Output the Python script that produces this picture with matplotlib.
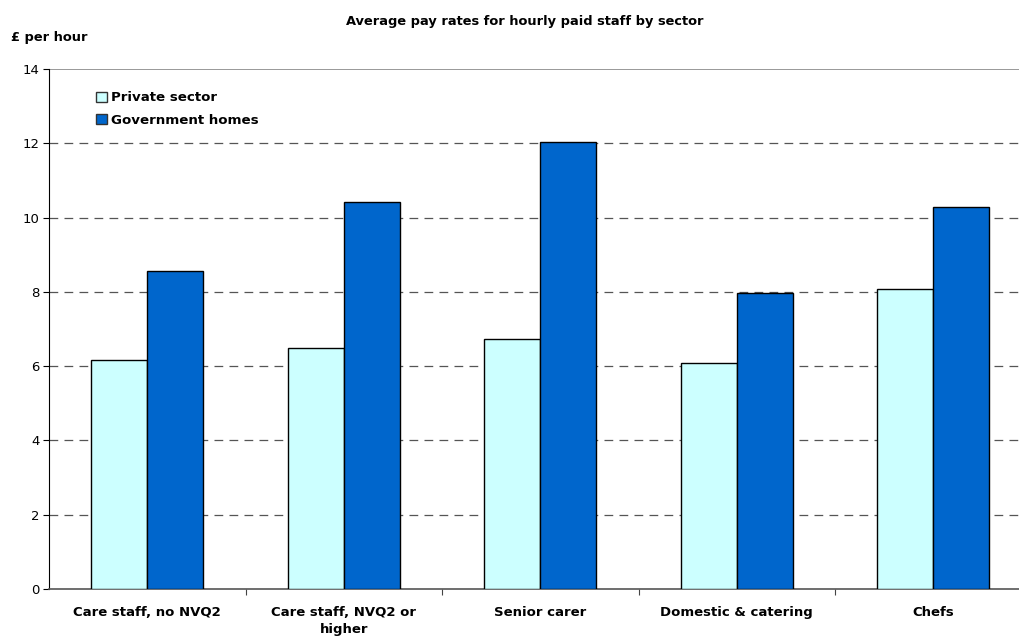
import matplotlib
matplotlib.use("Agg")
import matplotlib.pyplot as plt
import numpy as np

categories = ["Care staff, no NVQ2", "Care staff, NVQ2 or\nhigher", "Senior carer",
              "Domestic & catering", "Chefs"]
private = [6.17, 6.48, 6.73, 6.09, 8.07]
government = [8.57, 10.42, 12.03, 7.97, 10.29]
series_names = ["Private sector", "Government homes"]
colors = ["#CCFFFF", "#0066CC"]


def main():
    fig = plt.figure(figsize=(10.19, 6.39), dpi=100)
    ax = fig.add_axes([49 / 1019, 1 - 589 / 639, 982.5 / 1019, 520 / 639])

    x = np.arange(len(categories)) + 0.5
    w = 0.285
    ax.bar(x - w / 2, private, w, color=colors[0], edgecolor="black", linewidth=1,
           label=series_names[0], zorder=3)
    ax.bar(x + w / 2, government, w, color=colors[1], edgecolor="black", linewidth=1,
           label=series_names[1], zorder=3)

    ax.set_xlim(0, len(categories))
    ax.set_ylim(0, 14)
    ax.set_yticks(range(0, 15, 2))
    for yv in range(2, 14, 2):
        ax.axhline(yv, color="#555555", linestyle=(0, (7, 5)), linewidth=0.9, zorder=1)
    ax.axhline(14, color="#888888", linewidth=1.2, zorder=1)

    # category boundaries get ticks, labels sit at centres
    ax.set_xticks(np.arange(1, len(categories)))
    ax.set_xticklabels([])
    ax.set_xticks(x, minor=True)
    ax.set_xticklabels(categories, minor=True, fontweight="bold", fontsize=9.5,
                       linespacing=1.45)
    ax.tick_params(axis="x", which="minor", length=0, pad=12)
    ax.tick_params(axis="x", which="major", length=4, color="#444444")
    ax.tick_params(axis="y", length=4, labelsize=9.5, pad=3)

    for s in ["top", "right"]:
        ax.spines[s].set_visible(False)
    ax.spines["left"].set_color("black")
    ax.spines["bottom"].set_color("#555555")
    ax.spines["bottom"].set_linewidth(1.2)

    leg = ax.legend(loc="upper left", bbox_to_anchor=(0.036, 0.98), frameon=False,
                    prop={"weight": "bold", "size": 9.6}, handlelength=0.8,
                    handleheight=0.8, handletextpad=0.3, labelspacing=0.7)
    for h in leg.legend_handles:
        h.set_edgecolor("#333333")

    fig.text(525 / 1019, 1 - 22 / 639, "Average pay rates for hourly paid staff by sector",
             ha="center", va="center", fontweight="bold", fontsize=9.4)
    fig.text(11 / 1019, 1 - 37 / 639, "£ per hour", ha="left", va="center",
             fontweight="bold", fontsize=9.4)

    fig.savefig("out.png", dpi=100)


if __name__ == "__main__":
    main()
